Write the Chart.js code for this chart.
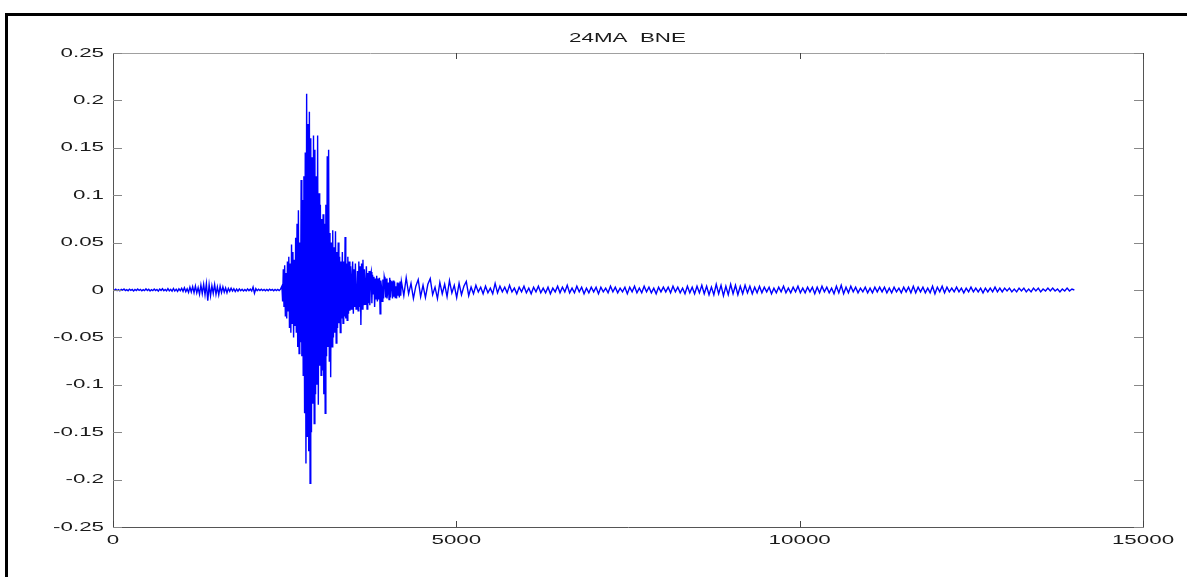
<!DOCTYPE html>
<html>
<head>
<meta charset="utf-8">
<title>24MA BNE</title>
<script src="https://cdn.jsdelivr.net/npm/chart.js@4.4.0/dist/chart.umd.min.js"></script>
<style>
    html, body { margin: 0; padding: 0; background: #fff; }
    canvas { display: block; }
</style>
</head>
<body>
<canvas id="myChart" width="1187" height="577"></canvas>
<script>
// Judul dan label sumbu
const chartTitle = '24MA  BNE';
const xTicks = [0, 5000, 10000, 15000];
const xTickLabels = ['0', '5000', '10000', '15000'];
const yTicks = [-0.25, -0.2, -0.15, -0.1, -0.05, 0, 0.05, 0.1, 0.15, 0.2, 0.25];
const yTickLabels = ['-0.25', '-0.2', '-0.15', '-0.1', '-0.05', '0', '0.05', '0.1', '0.15', '0.2', '0.25'];

// Noise sebelum gempa (sampel 0 - 2440, tiap 20 sampel)
const preEventStart = 0;
const preEventStep = 20;
const preEvent = [
    0.0006, -0.0004, 0.0008, -0.0007, 0.0003, -0.0009, 0.0007, -0.0002, 0.001, -0.0006,
    0.0004, -0.0008, 0.0009, -0.0003, 0.0006, -0.001, 0.0005, -0.0006, 0.0011, -0.0004,
    0.0007, -0.0009, 0.0003, -0.0006, 0.0012, -0.0005, 0.0008, -0.0011, 0.0004, -0.0007,
    0.001, -0.0006, 0.0005, -0.0012, 0.0009, -0.0004, 0.0013, -0.0008, 0.0006, -0.001,
    0.0014, -0.0009, 0.0007, -0.0013, 0.0016, -0.0011, 0.0009, -0.0015, 0.0012, -0.0008,
    0.0018, -0.0014, 0.0024, -0.0017, 0.0012, -0.0026, 0.003, -0.0021, 0.0035, -0.0028,
    0.0042, -0.0031, 0.0026, -0.0045, 0.0052, -0.0038, 0.0061, -0.0049, 0.0068, -0.0112,
    0.0055, -0.0062, 0.0044, -0.0036, 0.0058, -0.0047, 0.0032, -0.0051, 0.0039, -0.0028,
    0.0033, -0.0024, 0.0021, -0.0029, 0.0017, -0.0014, 0.0019, -0.0011, 0.0013, -0.0016,
    0.0009, -0.0012, 0.0011, -0.0007, 0.0008, -0.001, 0.0006, -0.0009, 0.0012, -0.0006,
    0.0009, -0.0011, 0.0031, -0.0034, 0.0014, -0.0008, 0.0007, -0.0006, 0.0008, -0.0005,
    0.0006, -0.0008, 0.0005, -0.0007, 0.0009, -0.0004, 0.0006, -0.0008, 0.0005, -0.0006,
    0.0007, -0.0005, 0.0009
];

// Getaran utama (sampel 2460 - 4190, tiap 10 sampel)
const burstStart = 2460;
const burstStep = 10;
const mainBurst = [
    0.004, -0.012, 0.022, -0.018, 0.026, -0.028, 0.018, -0.03, 0.03, -0.022,
    0.035, -0.04, 0.028, -0.045, 0.048, -0.035, 0.04, -0.05, 0.032, -0.038,
    0.055, -0.045, 0.07, -0.06, 0.084, -0.067, 0.05, -0.055, 0.116, -0.07,
    0.095, -0.09, 0.12, -0.13, 0.145, -0.183, 0.207, -0.155, 0.175, -0.17,
    0.188, -0.204, 0.16, -0.15, 0.14, -0.12, 0.163, -0.141, 0.148, -0.11,
    0.12, -0.1, 0.163, -0.121, 0.102, -0.08, 0.09, -0.09, 0.075, -0.085,
    0.08, -0.11, 0.07, -0.13, 0.09, -0.07, 0.141, -0.06, 0.148, -0.075,
    0.06, -0.092, 0.05, -0.06, 0.063, -0.05, 0.045, -0.045, 0.062, -0.056,
    0.04, -0.04, 0.05, -0.035, 0.035, -0.045, 0.03, -0.03, 0.04, -0.035,
    0.03, -0.028, 0.056, -0.03, 0.028, -0.032, 0.035, -0.025, 0.03, -0.022,
    0.025, -0.02, 0.012, 0.03, -0.025, 0.022, -0.018, 0.028, -0.02, -0.008,
    0.02, -0.022, 0.03, -0.018, 0.025, -0.037, 0.028, -0.02, 0.032, -0.016,
    0.022, -0.015, 0.006, 0.025, -0.02, 0.018, -0.014, 0.02, -0.016, 0.015,
    0.019, -0.014, 0.016, -0.004, 0.014, -0.018, 0.012, -0.01, 0.015, -0.012,
    0.012, -0.01, 0.013, -0.025, 0.01, 0.003, -0.012, 0.011, -0.009, 0.014,
    0.01, -0.008, 0.012, -0.009, -0.002, 0.008, -0.01, 0.013, -0.008, 0.009,
    0.008, -0.009, 0.01, -0.007, 0.009, -0.008, 0.004, -0.009, 0.008, -0.006,
    0.007, -0.008, 0.009, -0.006
];

// Coda (sampel 4200 - 14000, tiap 35 sampel)
const codaStart = 4200;
const codaStep = 35;
const coda = [
    0.009, -0.006, 0.013, -0.004, 0.007, -0.009, 0.004, 0.011, -0.007, 0.005,
    -0.008, 0.006, 0.012, -0.005, 0.003, -0.009, 0.008, -0.004, 0.006, -0.007,
    0.01, -0.003, 0.005, -0.008, 0.007, -0.005, 0.004, 0.009, -0.006, 0.003,
    -0.004, 0.005, -0.002, 0.003, -0.004, 0.004, -0.003, 0.002, -0.004, 0.007,
    -0.003, 0.004, -0.002, 0.003, -0.003, 0.005, -0.002, 0.002, -0.004, 0.003,
    -0.002, 0.004, -0.003, 0.002, -0.004, 0.003, -0.002, 0.004, -0.003, 0.002,
    -0.003, 0.003, -0.004, 0.002, -0.002, 0.004, -0.003, 0.003, -0.002, 0.005,
    -0.003, 0.002, -0.003, 0.004, -0.002, 0.003, -0.004, 0.002, -0.003, 0.003,
    -0.002, 0.003, -0.004, 0.003, -0.002, 0.002, -0.003, 0.004, -0.002, 0.003,
    -0.003, 0.002, -0.002, 0.003, -0.004, 0.003, -0.002, 0.004, -0.003, 0.002,
    -0.003, 0.004, -0.002, 0.003, -0.003, 0.002, -0.004, 0.003, -0.002, 0.003,
    -0.002, 0.003, -0.003, 0.004, -0.002, 0.003, -0.003, 0.002, -0.004, 0.004,
    -0.003, 0.003, -0.004, 0.004, -0.003, 0.005, -0.004, 0.004, -0.005, 0.003,
    -0.005, 0.006, -0.004, 0.005, -0.006, 0.004, -0.005, 0.006, -0.004, 0.005,
    -0.005, 0.004, -0.004, 0.005, -0.003, 0.004, -0.004, 0.003, -0.003, 0.004,
    -0.003, 0.003, -0.002, 0.003, -0.004, 0.002, -0.003, 0.003, -0.002, 0.004,
    -0.003, 0.002, -0.003, 0.003, -0.002, 0.004, -0.003, 0.002, -0.003, 0.003,
    -0.002, 0.003, -0.004, 0.003, -0.003, 0.004, -0.002, 0.003, -0.003, 0.002,
    -0.004, 0.004, -0.003, 0.005, -0.004, 0.003, -0.003, 0.004, -0.002, 0.003,
    -0.003, 0.002, -0.002, 0.003, -0.003, 0.002, -0.003, 0.003, -0.002, 0.003,
    -0.002, 0.003, -0.003, 0.002, -0.003, 0.003, -0.002, 0.002, -0.003, 0.003,
    -0.002, 0.003, -0.003, 0.004, -0.003, 0.003, -0.002, 0.003, -0.003, 0.002,
    -0.003, 0.004, -0.004, 0.003, -0.002, 0.004, -0.003, 0.003, -0.002, 0.002,
    -0.002, 0.003, -0.002, 0.002, -0.003, 0.002, -0.002, 0.003, -0.002, 0.002,
    -0.002, 0.002, -0.003, 0.002, -0.002, 0.002, -0.002, 0.003, -0.002, 0.002,
    -0.002, 0.002, -0.001, 0.002, -0.002, 0.001, -0.002, 0.002, -0.001, 0.002,
    -0.002, 0.001, -0.002, 0.002, -0.001, 0.002, -0.002, 0.001, -0.001, 0.002,
    -0.001, 0.002, -0.001, 0.001, -0.002, 0.001, -0.001, 0.002, -0.001, 0.001,
    0
];

// Ubah deret nilai jadi titik {x, y}
function toPoints(start, step, values) {
    return values.map((v, i) => ({ x: start + i * step, y: v }));
}

const seismo = [].concat(
    toPoints(preEventStart, preEventStep, preEvent),
    toPoints(burstStart, burstStep, mainBurst),
    toPoints(codaStart, codaStep, coda)
);

const FONT = '13px "Liberation Sans", Arial, sans-serif';
const STRETCH = 1.72; // teks di gambar asli melebar ke samping

function drawText(ctx, text, x, y, align) {
    ctx.save();
    ctx.translate(x, y);
    ctx.scale(STRETCH, 1);
    ctx.textAlign = align;
    ctx.textBaseline = 'middle';
    ctx.fillText(text, 0, 0);
    ctx.restore();
}

// Plugin: bingkai hitam, kotak plot, tick ke dalam ala MATLAB, label dan judul
const matlabFrame = {
    id: 'matlabFrame',
    afterDraw(chart) {
        const ctx = chart.ctx;
        const a = chart.chartArea;
        const xs = chart.scales.x;
        const ys = chart.scales.y;

        ctx.save();
        // bingkai luar
        ctx.fillStyle = '#000';
        ctx.fillRect(5, 13, chart.width - 5, 3);
        ctx.fillRect(5, 13, 3, chart.height - 13);

        // kotak plot
        ctx.lineWidth = 1;
        ctx.strokeStyle = '#a0a0a0';
        ctx.beginPath();
        ctx.moveTo(a.left, a.top + 0.5);
        ctx.lineTo(a.right, a.top + 0.5);
        ctx.stroke();
        ctx.strokeStyle = '#555';
        ctx.beginPath();
        ctx.moveTo(a.left + 0.5, a.top);
        ctx.lineTo(a.left + 0.5, a.bottom + 0.5);
        ctx.lineTo(a.right + 0.5, a.bottom + 0.5);
        ctx.lineTo(a.right + 0.5, a.top);
        ctx.stroke();

        // tick sumbu x (atas dan bawah)
        ctx.strokeStyle = '#444';
        xTicks.forEach(v => {
            const px = Math.round(xs.getPixelForValue(v)) + 0.5;
            ctx.beginPath();
            ctx.moveTo(px, a.bottom);
            ctx.lineTo(px, a.bottom - 6);
            ctx.moveTo(px, a.top);
            ctx.lineTo(px, a.top + 6);
            ctx.stroke();
        });
        // tick sumbu y (kiri dan kanan)
        yTicks.forEach(v => {
            const py = Math.round(ys.getPixelForValue(v)) + 0.5;
            ctx.strokeStyle = '#888';
            ctx.beginPath();
            ctx.moveTo(a.left, py);
            ctx.lineTo(a.left + 9, py);
            ctx.moveTo(a.right, py);
            ctx.lineTo(a.right - 9, py);
            ctx.stroke();
        });

        // label tick
        ctx.fillStyle = '#1a1a1a';
        ctx.font = FONT;
        yTicks.forEach((v, i) => {
            drawText(ctx, yTickLabels[i], 104, ys.getPixelForValue(v), 'right');
        });
        xTicks.forEach((v, i) => {
            drawText(ctx, xTickLabels[i], xs.getPixelForValue(v), 540, 'center');
        });

        // judul
        drawText(ctx, chartTitle, (a.left + a.right) / 2 - 0.5, 38, 'center');
        ctx.restore();
    }
};

const ctx = document.getElementById('myChart').getContext('2d');
const myChart = new Chart(ctx, {
    type: 'line',
    data: {
        datasets: [{
            label: '24MA BNE',
            data: seismo,
            borderColor: '#0000ff',
            borderWidth: 1.4,
            pointRadius: 0,
            fill: false,
            tension: 0
        }]
    },
    options: {
        responsive: false,
        animation: false,
        layout: { padding: { left: 0, top: 53, right: 44, bottom: 0 } },
        plugins: {
            legend: { display: false },
            title: { display: false },
            tooltip: { enabled: false }
        },
        scales: {
            x: {
                type: 'linear',
                min: 0,
                max: 15000,
                grid: { display: false },
                border: { display: false },
                ticks: { display: false },
                afterBuildTicks: s => { s.ticks = xTicks.map(v => ({ value: v })); },
                afterFit: s => { s.height = 50; }
            },
            y: {
                type: 'linear',
                min: -0.25,
                max: 0.25,
                grid: { display: false },
                border: { display: false },
                ticks: { display: false },
                afterBuildTicks: s => { s.ticks = yTicks.map(v => ({ value: v })); },
                afterFit: s => { s.width = 113; }
            }
        }
    },
    plugins: [matlabFrame]
});
</script>
</body>
</html>
